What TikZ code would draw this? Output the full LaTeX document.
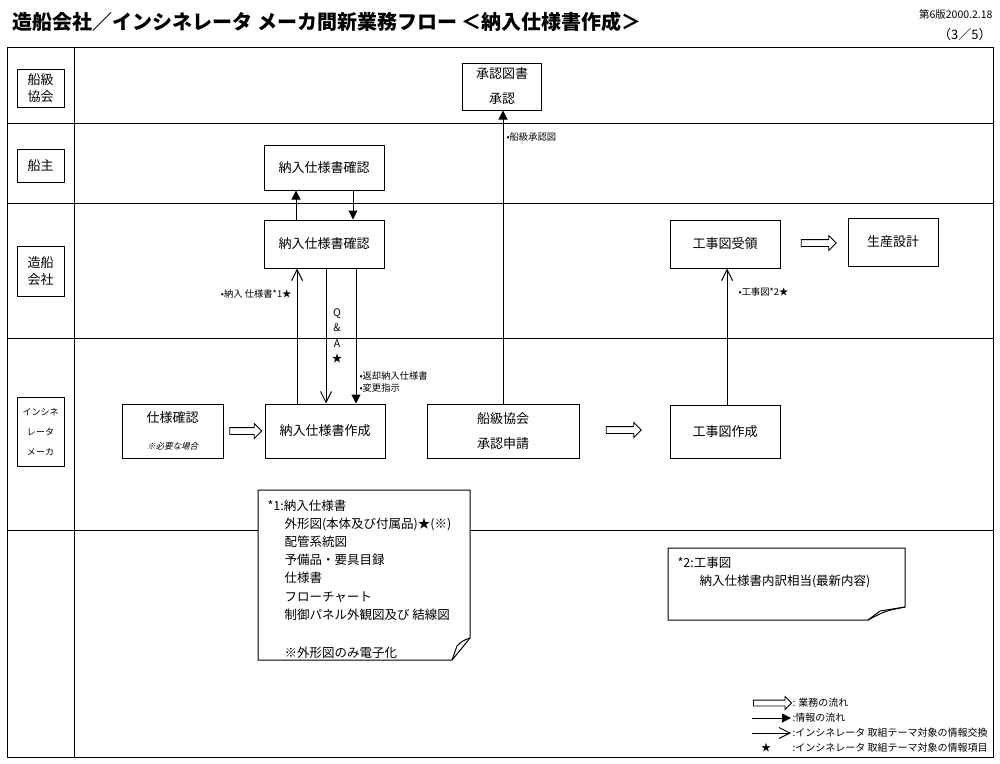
\documentclass[tikz,border=0pt]{standalone}
\usepackage{fontspec}
\setmainfont{Noto Sans CJK JP}
\newfontfamily\slantjp{Noto Sans CJK JP}[FakeSlant=0.25]
\usetikzlibrary{arrows.meta, positioning, calc, shapes.arrows}

\begin{document}
\begin{tikzpicture}[x=1pt, y=-1pt, line width=1pt,
  lanebox/.style = {draw, minimum width=47pt, align=center, inner sep=1pt, font=\fontsize{13}{17}\selectfont},
  taskbox/.style = {draw, minimum width=120pt, minimum height=48pt, align=center, fill=white, font=\fontsize{13}{25}\selectfont},
  notetext/.style = {align=left, anchor=north west, inner sep=0pt, font=\fontsize{12.5}{18.2}\selectfont},
  smalltext/.style = {font=\fontsize{9.3}{12}\selectfont, inner sep=1pt, align=left},
  legendtext/.style = {font=\fontsize{10}{12}\selectfont, inner sep=0pt, anchor=west},
  flowarrow/.style = {single arrow, draw, line width=0.8pt, fill=white, text height=6pt, text depth=0pt, text width=0pt, single arrow head extend=4pt, minimum height=32pt, inner sep=0pt},
  infoarrow/.style = {-{Triangle[length=9pt,width=9pt]}},
  xarrow/.style = {-{Straight Barb[length=11pt,width=11pt]}}
]
\useasboundingbox (0,0) rectangle (1000,763);
\draw (7,47) rectangle (993,757);
\draw (74,47) -- (74,757);
\foreach \y in {123,203,338,530}
  \draw (7,\y) -- (993,\y);

\node[anchor=west, font=\bfseries\fontsize{20}{20}\selectfont] (title) at (9,22) {造船会社／インシネレータ メーカ間新業務フロー ＜納入仕様書作成＞};
\node[anchor=east, font=\fontsize{10.5}{12}\selectfont, inner sep=0pt] (edition) at (993,14) {第6版2000.2.18};
\node[anchor=east, font=\fontsize{13}{14}\selectfont, inner sep=0pt] (page) at (992,35) {（3／5）};

\node[lanebox, minimum height=38pt] (l-class) at (40.5,88) {船級\\協会};
\node[lanebox, minimum height=33pt] (l-owner) at (40.5,166) {船主};
\node[lanebox, minimum height=50pt] (l-yard) at (40.5,271) {造船\\会社};
\node[lanebox, minimum height=69pt, font=\fontsize{9}{20}\selectfont] (l-maker) at (40.5,432) {インシネ\\レータ\\メーカ};

\node[taskbox, minimum width=79pt, minimum height=47pt] (approve) at (502,86.5) {承認図書\\承認};
\node[taskbox, minimum height=45pt] (ownerchk) at (324,167.5) {納入仕様書確認};
\node[taskbox] (yardchk) at (324,244) {納入仕様書確認};
\node[taskbox, minimum width=110pt] (receive) at (725,244) {工事図受領};
\node[taskbox, minimum width=90pt] (prod) at (893,242) {生産設計};
\node[taskbox, minimum width=101pt, minimum height=54pt, font=\fontsize{13}{27}\selectfont] (spec) at (172.5,431) {仕様確認\\{\slantjp\fontsize{8.5}{8}\selectfont ※必要な場合}};
\node[taskbox, minimum height=54pt] (make) at (325,431) {納入仕様書作成};
\node[taskbox, minimum width=152pt, minimum height=54pt] (apply) at (503,431) {船級協会\\承認申請};
\node[taskbox, minimum width=110pt, minimum height=53pt] (drawing) at (725,431.5) {工事図作成};

\node[flowarrow] (flow1) at ($(spec.east)!0.5!(make.west)$) {};
\node[flowarrow, minimum height=35pt] (flow2) at (622,430) {};
\node[flowarrow, minimum height=35pt] (flow3) at (817,243) {};

\draw[infoarrow] ([xshift=-28pt]yardchk.north) -- ([xshift=-28pt]yardchk.north |- ownerchk.south);
\draw[infoarrow] ([xshift=29pt]ownerchk.south) -- ([xshift=29pt]ownerchk.south |- yardchk.north);
\draw[xarrow] ([xshift=-28pt]make.north) -- ([xshift=-28pt]make.north |- yardchk.south)
  node[smalltext, pos=0.81, left=4pt] (lb-spec) {•納入 仕様書*1★};
\draw[xarrow, {Straight Barb[length=11pt,width=11pt]}-] ([xshift=1pt]make.north) -- ([xshift=1pt]make.north |- yardchk.south);
\node[smalltext, font=\fontsize{10.5}{15.5}\selectfont, align=center] (qa) at (337,336) {Q\\\&\\A\\★};
\draw[infoarrow] ([xshift=32pt]yardchk.south) -- ([xshift=32pt]yardchk.south |- make.north)
  node[smalltext, pos=0.84, right=2pt] (lb-return) {•返却納入仕様書\\•変更指示};
\draw[infoarrow] (apply.north) -- (apply.north |- approve.south)
  node[smalltext, pos=0.91, right=2pt] (lb-class) {•船級承認図};
\draw[xarrow] ([xshift=2pt]drawing.north) -- ([xshift=2pt]drawing.north |- receive.south)
  node[smalltext, pos=0.83, right=10pt] (lb-draw) {•工事図*2★};

\draw[fill=white] (258,490) -- (470,490) -- (470,638) .. controls (462,648) .. (452,660) -- (258,660) -- cycle;
\draw (452,660) -- (457,646) .. controls (462,641) .. (470,638);
\node[notetext] (note1) at (267,499) {*1:納入仕様書\\
\hspace*{17pt}外形図(本体及び付属品)★(※)\\
\hspace*{17pt}配管系統図\\
\hspace*{17pt}予備品・要具目録\\
\hspace*{17pt}仕様書\\
\hspace*{17pt}フローチャート\\
\hspace*{17pt}制御パネル外観図及び 結線図\\[20pt]
\hspace*{17pt}※外形図のみ電子化};

\draw[fill=white] (668,548) -- (905,548) -- (905,607) .. controls (885,611) .. (868,620) -- (668,620) -- cycle;
\draw (868,620) -- (880,611) .. controls (892,609) .. (905,607);
\node[notetext] (note2) at (677,556) {*2:工事図\\\hspace*{22pt}納入仕様書内訳相当(最新内容)};

\node[flowarrow, minimum height=38pt, text height=5pt, single arrow head extend=3.5pt] (lg-flow) at (771,703) {};
\node[legendtext] (lg-flow-t) at (792,703) {: 業務の流れ};
\coordinate (lg-info-a) at (752,718);
\coordinate (lg-info-b) at (791,718);
\draw[infoarrow] (lg-info-a) -- (lg-info-b);
\node[legendtext] (lg-info-t) at (792,718) {:情報の流れ};
\coordinate (lg-x-a) at (752,733);
\coordinate (lg-x-b) at (791,733);
\draw[xarrow] (lg-x-a) -- (lg-x-b);
\node[legendtext] (lg-x-t) at (792,733) {:インシネレータ 取組テーマ対象の情報交換};
\node[font=\fontsize{10}{12}\selectfont, inner sep=0pt] (lg-star) at (766,748) {★};
\node[legendtext] (lg-star-t) at (792,748) {:インシネレータ 取組テーマ対象の情報項目};
\end{tikzpicture}
\end{document}
